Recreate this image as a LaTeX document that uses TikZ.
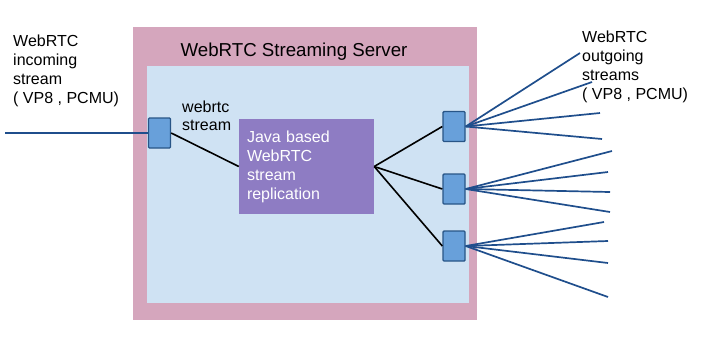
\documentclass[tikz,border=0pt]{standalone}
\usepackage{fontspec}
\setmainfont{Liberation Sans}
\usetikzlibrary{positioning}
\definecolor{SrvPink}{RGB}{213, 166, 189}
\definecolor{SrvBlue}{RGB}{207, 226, 243}
\definecolor{RepPurple}{RGB}{142, 124, 195}
\definecolor{PortFill}{RGB}{104, 160, 218}
\definecolor{PortEdge}{RGB}{40, 85, 135}
\definecolor{StreamBlue}{RGB}{31, 78, 140}

\begin{document}
\begin{tikzpicture}[x=1pt,y=-1pt,
    port/.style={draw=PortEdge, fill=PortFill, line width=1.4pt, rounded corners=1pt,
                 minimum width=22pt, minimum height=30pt, inner sep=0pt},
    lbl/.style={anchor=north west, align=left, inner sep=0pt, font=\fontsize{16}{19}\selectfont},
    feed/.style={StreamBlue, line width=1.7pt},
    link/.style={black, line width=1.6pt}]
  \useasboundingbox (0,0) rectangle (719,354);

  % server frame
  \fill[SrvPink] (133,27) rectangle (477,320);
  \fill[SrvBlue] (147,66) rectangle (469,303);
  \node (title) at (294,52) {\fontsize{18.7}{20}\selectfont WebRTC Streaming Server};

  % replication block and ports
  \node[fill=RepPurple, text=white, align=left, text width=119pt, inner xsep=8pt,
        minimum width=135pt, minimum height=95pt, font=\fontsize{16}{19}\selectfont]
    (rep) at (306.5,166.5) {Java based\\WebRTC\\stream\\replication};
  \node[port] (inp)  at (159.5,133) {};
  \node[port] (out1) at (454,126.5) {};
  \node[port] (out2) at (454,189) {};
  \node[port] (out3) at (454,246) {};

  % labels
  \node[lbl] (inlbl)  at (13,35)   {WebRTC\\incoming\\stream\\( VP8 , PCMU)};
  \node[lbl] (outlbl) at (582,31)  {WebRTC\\outgoing\\streams\\( VP8 , PCMU)};
  \node[lbl, font=\fontsize{16}{18}\selectfont] (wlbl) at (182,101) {webrtc\\stream};

  % internal links
  \draw[link] (inp.east) -- (rep.west);
  \foreach \p in {out1,out2,out3}
    \draw[link] (rep.east) -- (\p.west);

  % incoming stream
  \coordinate (src) at (5,133);
  \draw[feed] (src) -- (inp.west);

  % outgoing fan
  \foreach \i/\p/\ex/\ey in {1/out1/580/53, 2/out1/592/82, 3/out1/600/113, 4/out1/602/139,
                            5/out2/612/151, 6/out2/608/172, 7/out2/610/192, 8/out2/610/212,
                            9/out3/604/222, 10/out3/608/241, 11/out3/608/263, 12/out3/608/297} {
    \coordinate (tip\i) at (\ex,\ey);
    \draw[feed] (\p.east) -- (tip\i);
  }
\end{tikzpicture}
\end{document}
